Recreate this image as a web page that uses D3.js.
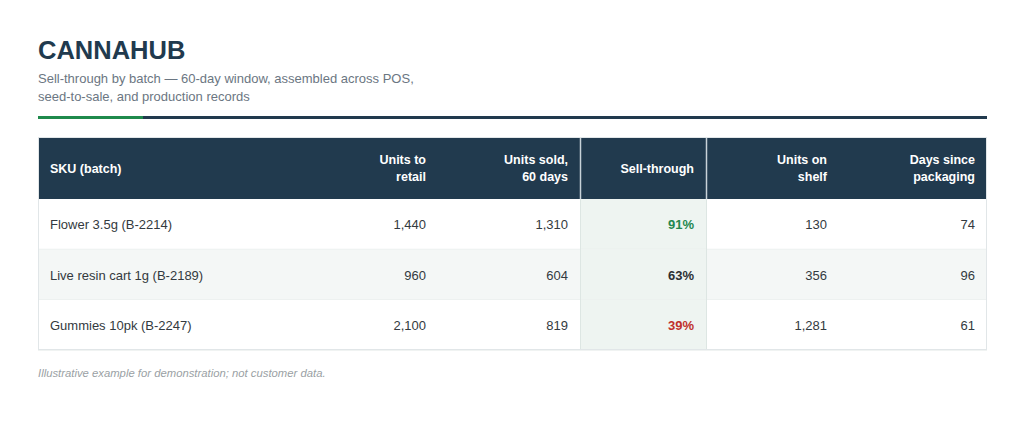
<!DOCTYPE html>
<html>
<head>
<meta charset="utf-8">
<script src="https://cdn.jsdelivr.net/npm/d3@7"></script>
<style>
  body { margin: 0; background: #fff; font-family: "Liberation Sans", Arial, sans-serif; }
</style>
</head>
<body>
<svg id="chart"></svg>
<script>
// table content
const columns = [["SKU (batch)"], ["Units to", "retail"], ["Units sold,", "60 days"], ["Sell-through"], ["Units on", "shelf"], ["Days since", "packaging"]];
const skus = ["Flower 3.5g (B-2214)", "Live resin cart 1g (B-2189)", "Gummies 10pk (B-2247)"];
const unitsToRetail = [1440, 960, 2100];
const unitsSold = [1310, 604, 819];
const sellThrough = [91, 63, 39];
const unitsOnShelf = [130, 356, 1281];
const daysSincePackaging = [74, 96, 61];

const width = 1024;
const height = 441;
const left = 38, right = 987;

const svg = d3.select("#chart")
    .attr("width", width)
    .attr("height", height);

//title + subtitle
svg.append("text")
    .attr("x", left)
    .attr("y", 59)
    .style("font-size", "25.5px")
    .style("font-weight", "bold")
    .style("fill", "#213a4e")
    .text("CANNAHUB");

const subLines = ["Sell-through by batch \u2014 60-day window, assembled across POS,", "seed-to-sale, and production records"];
svg.selectAll("text.sub")
    .data(subLines)
    .enter()
    .append("text")
    .attr("class", "sub")
    .attr("x", left)
    .attr("y", (d, i) => 83 + i * 18)
    .style("font-size", "13px")
    .style("fill", "#6b7682")
    .text(d => d);

//divider
svg.append("rect").attr("x", left).attr("y", 116).attr("width", right - left).attr("height", 3).style("fill", "#213a4e");
svg.append("rect").attr("x", left).attr("y", 116).attr("width", 105).attr("height", 3).style("fill", "#1f8a4c");

//table geometry (column c spans colEdges[c]..colEdges[c+1])
const colEdges = [38, 300, 438, 580, 706, 839, 987];
const headerTop = 137, headerH = 62;
const rowScale = d3.scaleBand()
    .domain(d3.range(skus.length))
    .range([headerTop + headerH, headerTop + headerH + 151]);

const fmt = d3.format(",");
const rows = skus.map((s, i) => [s, fmt(unitsToRetail[i]), fmt(unitsSold[i]), sellThrough[i] + "%", fmt(unitsOnShelf[i]), fmt(daysSincePackaging[i])]);
const stColor = v => v >= 80 ? "#23874f" : (v < 50 ? "#c0302b" : "#2b2f33");
const textX = c => c === 0 ? colEdges[0] + 12 : colEdges[c + 1] - 12;

//header
svg.append("rect")
    .attr("x", left).attr("y", headerTop)
    .attr("width", right - left).attr("height", headerH)
    .style("fill", "#213a4e");

const hdr = svg.selectAll("g.hdr")
    .data(columns)
    .enter()
    .append("g")
    .attr("class", "hdr");

hdr.each(function (lines, c) {
    const cy = headerTop + headerH / 2;
    d3.select(this).selectAll("text")
        .data(lines)
        .enter()
        .append("text")
        .attr("x", textX(c))
        .attr("y", (d, i) => cy + 4.5 + (i - (lines.length - 1) / 2) * 17)
        .attr("text-anchor", c === 0 ? "start" : "end")
        .style("font-size", "12.5px")
        .style("font-weight", "bold")
        .style("fill", "#ffffff")
        .text(d => d);
});

//body rows
rows.forEach((row, r) => {
    const y0 = rowScale(r);
    const h = rowScale.bandwidth();
    svg.append("rect")
        .attr("x", left).attr("y", y0)
        .attr("width", right - left).attr("height", h)
        .style("fill", r % 2 === 1 ? "#f4f7f6" : "#ffffff");
    //highlighted sell-through column
    svg.append("rect")
        .attr("x", colEdges[3]).attr("y", y0)
        .attr("width", colEdges[4] - colEdges[3]).attr("height", h)
        .style("fill", "#eef4f1");
    svg.append("line")
        .attr("x1", left).attr("x2", right)
        .attr("y1", y0 + h).attr("y2", y0 + h)
        .style("stroke", "#e1e8e6").style("stroke-width", 1);

    row.forEach((val, c) => {
        svg.append("text")
            .attr("x", textX(c))
            .attr("y", y0 + h / 2 + 5)
            .attr("text-anchor", c === 0 ? "start" : "end")
            .style("font-size", "13px")
            .style("font-weight", c === 3 ? "bold" : "normal")
            .style("fill", c === 3 ? stColor(sellThrough[r]) : "#333a40")
            .text(val);
    });
});

//vertical lines around sell-through column
[colEdges[3], colEdges[4]].forEach(x => {
    svg.append("line")
        .attr("x1", x + 0.5).attr("x2", x + 0.5)
        .attr("y1", headerTop).attr("y2", headerTop + headerH)
        .style("stroke", "#c8d2d8").style("stroke-width", 1.5);
    svg.append("line")
        .attr("x1", x + 0.5).attr("x2", x + 0.5)
        .attr("y1", headerTop + headerH).attr("y2", rowScale.range()[1])
        .style("stroke", "#dde6e3").style("stroke-width", 1);
});

//outer border
svg.append("rect")
    .attr("x", left + 0.5).attr("y", headerTop + 0.5)
    .attr("width", right - left - 1).attr("height", rowScale.range()[1] - headerTop - 1)
    .style("fill", "none")
    .style("stroke", "#e1e6e8");

//footnote
svg.append("text")
    .attr("x", left)
    .attr("y", 377)
    .style("font-size", "11.3px")
    .style("font-style", "italic")
    .style("fill", "#9a9fa4")
    .text("Illustrative example for demonstration; not customer data.");
</script>
</body>
</html>
